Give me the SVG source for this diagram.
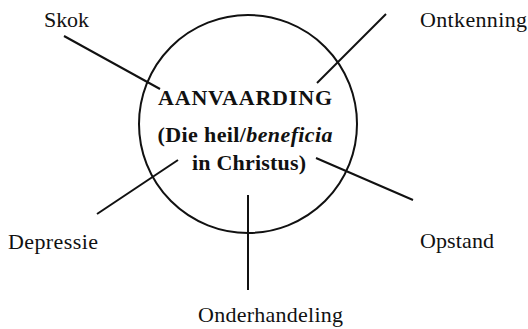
<svg xmlns="http://www.w3.org/2000/svg" width="528" height="329" viewBox="0 0 528 329" font-family="'Liberation Serif', 'Times New Roman', serif">
<style>
.lbl{font-family:'Liberation Serif', 'Times New Roman', serif;font-size:22px;fill:#111}
.ctr{font-family:'Liberation Serif', 'Times New Roman', serif;font-size:22px;font-weight:bold;fill:#111;text-anchor:middle}
.ln{stroke:#111;stroke-width:2;fill:none;stroke-linecap:butt}
</style>
<rect width="528" height="329" fill="#fff"/>
<g id="center">
<circle cx="248" cy="124" r="109" class="ln"/>
<text class="ctr" x="245" y="105" textLength="174" lengthAdjust="spacing">AANVAARDING</text>
<text class="ctr" x="245" y="142" textLength="175" lengthAdjust="spacing">(Die heil/<tspan font-style="italic">beneficia</tspan></text>
<text class="ctr" x="249" y="170" textLength="114" lengthAdjust="spacing">in Christus)</text>
</g>
<g id="connectors">
<line class="ln" x1="64" y1="36" x2="160" y2="89"/>
<line class="ln" x1="386" y1="14" x2="317" y2="83"/>
<line class="ln" x1="178" y1="160" x2="97" y2="214"/>
<line class="ln" x1="316" y1="158" x2="413" y2="200"/>
<line class="ln" x1="248" y1="195" x2="248" y2="290"/>
</g>
<g id="skok"><text class="lbl" x="44" y="27" textLength="45" lengthAdjust="spacing">Skok</text></g>
<g id="ontkenning"><text class="lbl" x="420" y="27" textLength="107" lengthAdjust="spacing">Ontkenning</text></g>
<g id="depressie"><text class="lbl" x="8" y="249" textLength="90" lengthAdjust="spacing">Depressie</text></g>
<g id="opstand"><text class="lbl" x="420" y="248" textLength="74" lengthAdjust="spacing">Opstand</text></g>
<g id="onderhandeling"><text class="lbl" x="198" y="322" textLength="145" lengthAdjust="spacing">Onderhandeling</text></g>
</svg>
